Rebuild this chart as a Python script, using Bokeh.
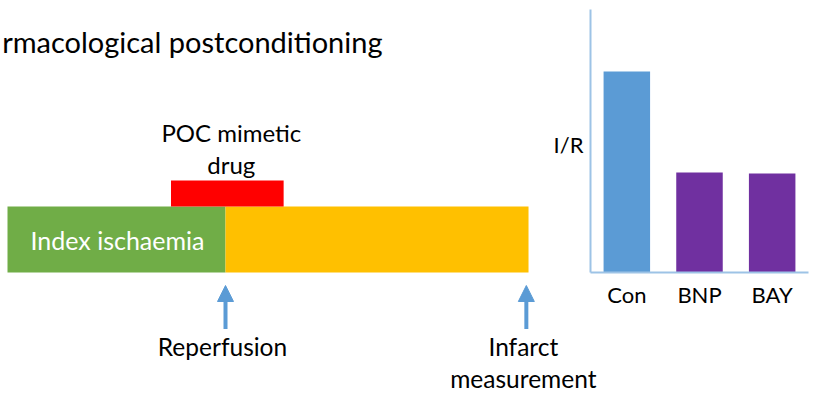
from bokeh.plotting import figure
from bokeh.models import Range1d, FactorRange, Arrow, NormalHead, FixedTicker
from bokeh.layouts import row, column
from bokeh.core.properties import value
from bokeh.embed import file_html
from bokeh.resources import INLINE

# ---------------- data ----------------
title_text = "rmacological postconditioning"
phase_names = ["Index ischaemia", "Reperfusion"]
phase_start = [0.0, 30.0]
phase_end = [30.0, 71.7]
phase_colors = ["#70ad47", "#ffc000"]
drug_lines = ["POC mimetic", "drug"]
drug_start = [22.5]
drug_end = [38.0]
event_labels = [["Reperfusion"], ["Infarct", "measurement"]]
event_time = [30.0, 71.4]

categories = ["Con", "BNP", "BAY"]
ir_values = [0.764, 0.380, 0.376]
bar_colors = ["#5b9bd5", "#7030a0", "#7030a0"]
y_label = "I/R"

FONT = value("Lato")
ARROW_BLUE = "#5b9bd5"
AXIS_BLUE = "#9dc3e6"
BASE = -9.5               # baseline correction for the svg text placement

# --------------- layout constants ---------------
K = 218.0 / 30.0          # pixels per time unit
X0 = 7.0                  # pixel of t=0
W, H = 821, 403
LEFT_W = 588
TOP_H = 329


def t_at(px):
    return (px - X0) / K


def blank(fig):
    fig.frame_align = False
    fig.axis.visible = False
    fig.grid.visible = False


# --------------- timeline diagram (upper part) ---------------
p1 = figure(width=LEFT_W, height=TOP_H, output_backend="svg", toolbar_location=None,
            x_range=Range1d(t_at(0), t_at(LEFT_W)), y_range=Range1d(TOP_H, 0),
            min_border=0, outline_line_color=None)
blank(p1)

p1.quad(left=phase_start, right=phase_end, top=206, bottom=272,
        fill_color=phase_colors, line_color=None)
p1.quad(left=drug_start, right=drug_end, top=180, bottom=206,
        fill_color="#ff0000", line_color=None)

p1.text(x=[t_at(382)], y=[50 + BASE], text=[title_text], text_font=FONT,
        text_font_size="29px", text_align="right", text_baseline="alphabetic",
        text_color="#000000")

drug_mid = (drug_start[0] + drug_end[0]) / 2
p1.text(x=[drug_mid, drug_mid], y=[141 + BASE, 173 + BASE], text=drug_lines, text_font=FONT,
        text_font_size="24px", text_align="center", text_baseline="alphabetic",
        x_offset=4, text_color="#000000")

p1.text(x=[phase_start[0]], y=[249 + BASE], text=[phase_names[0]], text_font=FONT,
        text_font_size="25px", text_align="left", text_baseline="alphabetic",
        x_offset=23, text_color="#ffffff")

for t in event_time:
    p1.add_layout(Arrow(end=NormalHead(size=16, fill_color=ARROW_BLUE, line_color=ARROW_BLUE),
                        x_start=t, y_start=TOP_H, x_end=t, y_end=285,
                        line_color=ARROW_BLUE, line_width=4))

# y-axis title of the bar chart (sits just left of the chart's axis line)
p1.text(x=[t_at(583)], y=[153 + BASE], text=[y_label], text_font=FONT,
        text_font_size="22px", text_align="right", text_baseline="alphabetic",
        text_color="#000000")

# --------------- bar chart ---------------
p2 = figure(width=W - LEFT_W, height=TOP_H, output_backend="svg", toolbar_location=None,
            x_range=FactorRange(*categories, range_padding=0), y_range=Range1d(0, 1),
            min_border_left=590 - LEFT_W, min_border_right=13, min_border_top=9,
            min_border_bottom=TOP_H - 272, outline_line_color=None)
p2.frame_align = False
p2.grid.visible = False
p2.vbar(x=categories, top=ir_values, width=0.64, fill_color=bar_colors, line_color=None)

for ax in (p2.xaxis[0], p2.yaxis[0]):
    ax.axis_line_color = AXIS_BLUE
    ax.axis_line_width = 2
    ax.major_tick_line_color = None
    ax.minor_tick_line_color = None
    ax.major_tick_out = 0
    ax.major_tick_in = 0
p2.yaxis.ticker = FixedTicker(ticks=[])
p2.yaxis.major_label_standoff = 0
p2.xaxis.major_label_text_font = "Lato"
p2.xaxis.major_label_text_font_size = "22px"
p2.xaxis.major_label_text_color = "#000000"
p2.xaxis.major_label_standoff = 8

# --------------- timeline event labels (lower strip) ---------------
p3 = figure(width=W, height=H - TOP_H, output_backend="svg", toolbar_location=None,
            x_range=Range1d(t_at(0), t_at(W)), y_range=Range1d(H, TOP_H),
            min_border=0, outline_line_color=None)
blank(p3)
for t, lines in zip(event_time, event_labels):
    for i, line in enumerate(lines):
        p3.text(x=[t], y=[355 + 32 * i + BASE], text=[line], text_font=FONT,
                text_font_size="24.5px", text_align="center", text_baseline="alphabetic",
                x_offset=-3, text_color="#000000")

layout = column(row(p1, p2), p3)
open("out.html", "w").write(file_html(layout, INLINE))
